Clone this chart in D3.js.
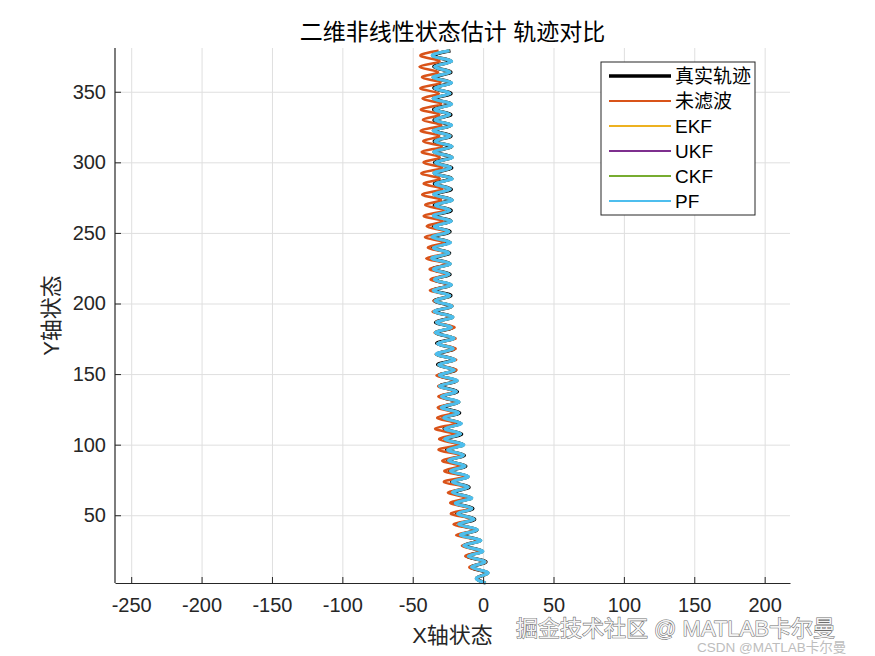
<!DOCTYPE html>
<html>
<head>
<meta charset="utf-8">
<script src="https://cdn.jsdelivr.net/npm/d3@7"></script>
<style>
  body { margin: 0; background: #fff; }
  svg { display: block; font-family: "Liberation Sans", Arial, "Noto Sans CJK SC", sans-serif; }
</style>
</head>
<body>
<svg id="chart"></svg>
<script>
// sample heights (y state) of each turning point of the trajectory
const yLevels = [
  2.0, 5.8, 9.5, 13.3, 17.1, 20.9, 24.6, 28.4, 32.2, 35.9,
  39.7, 43.5, 47.2, 51.0, 54.8, 58.6, 62.3, 66.1, 69.9, 73.6,
  77.4, 81.2, 84.9, 88.7, 92.5, 96.3, 100.0, 103.8, 107.6, 111.3,
  115.1, 118.9, 122.6, 126.4, 130.2, 134.0, 137.7, 141.5, 145.3, 149.0,
  152.8, 156.6, 160.3, 164.1, 167.9, 171.7, 175.4, 179.2, 183.0, 186.7,
  190.5, 194.3, 198.0, 201.8, 205.6, 209.4, 213.1, 216.9, 220.7, 224.4,
  228.2, 232.0, 235.7, 239.5, 243.3, 247.1, 250.8, 254.6, 258.4, 262.1,
  265.9, 269.7, 273.4, 277.2, 281.0, 284.8, 288.5, 292.3, 296.1, 299.8,
  303.6, 307.4, 311.1, 314.9, 318.7, 322.5, 326.2, 330.0, 333.8, 337.5,
  341.3, 345.1, 348.8, 352.6, 356.4, 360.2, 363.9, 367.7, 371.5, 375.2,
  379.0
];

// true x state
const trueX = [
  1.5, -4.0, 2.6, -8.5, 1.9, -11.5, -0.6, -13.5, -2.3, -15.3,
  -4.4, -17.4, -6.0, -18.7, -7.3, -20.1, -8.8, -21.5, -10.0, -22.3,
  -11.0, -23.7, -12.3, -25.0, -13.4, -25.9, -14.3, -26.8, -15.3, -27.7,
  -16.2, -28.4, -16.7, -29.1, -17.6, -30.1, -18.3, -30.6, -18.9, -31.4,
  -19.8, -32.3, -20.6, -32.7, -20.7, -33.0, -21.3, -33.6, -21.9, -33.8,
  -21.9, -34.2, -22.4, -34.8, -22.9, -35.0, -23.1, -35.2, -23.5, -35.8,
  -23.9, -35.9, -23.8, -36.0, -23.9, -35.7, -23.5, -35.3, -23.0, -34.8,
  -22.7, -34.7, -22.5, -34.5, -22.6, -34.6, -22.5, -34.4, -22.3, -34.5,
  -22.5, -34.6, -22.7, -34.7, -22.8, -35.0, -23.0, -34.9, -22.9, -35.1,
  -23.0, -34.9, -22.8, -35.0, -23.1, -35.0, -22.9, -35.0, -23.0, -35.1,
  -23.2
];

// raw measurement (no filter)
const measX = [
  2.0, -4.0, 2.7, -9.8, 1.9, -12.6, -2.4, -15.1, -3.7, -19.2,
  -5.6, -21.0, -7.2, -22.9, -9.8, -23.3, -12.7, -25.0, -12.4, -27.9,
  -13.7, -27.5, -16.9, -29.0, -16.3, -31.7, -17.8, -31.2, -20.5, -34.1,
  -19.8, -32.6, -21.1, -32.2, -19.1, -31.8, -20.6, -31.9, -18.7, -33.2,
  -18.9, -31.9, -19.2, -33.8, -19.5, -32.4, -19.6, -34.5, -20.3, -33.3,
  -22.2, -35.9, -21.6, -35.1, -24.0, -37.8, -23.6, -37.3, -26.3, -38.0,
  -25.5, -40.4, -26.0, -39.2, -27.9, -41.3, -26.9, -40.0, -28.9, -42.2,
  -28.0, -41.1, -29.9, -43.3, -28.9, -42.2, -30.8, -43.9, -29.2, -42.3,
  -30.7, -43.6, -29.4, -42.5, -31.2, -44.3, -29.8, -42.8, -31.1, -44.2,
  -29.9, -43.0, -31.5, -44.6, -30.3, -43.4, -32.0, -45.2, -31.0, -44.2,
  -31.6
];

// filter estimates (EKF / UKF / CKF / PF lie on top of each other)
const estX = [
  1.8, -4.5, 3.4, -8.3, 1.3, -10.6, -0.2, -13.8, -1.6, -16.1,
  -3.9, -17.3, -6.4, -18.1, -8.0, -19.8, -8.0, -21.7, -10.5, -21.9,
  -10.4, -23.1, -12.8, -24.6, -13.9, -25.2, -13.7, -27.3, -15.9, -27.2,
  -15.4, -28.1, -17.3, -29.8, -17.0, -29.5, -18.9, -31.1, -18.2, -31.0,
  -20.4, -31.6, -20.1, -33.4, -21.2, -32.4, -20.6, -33.9, -22.5, -33.2,
  -21.4, -34.9, -22.0, -34.1, -23.6, -35.5, -22.4, -34.6, -24.1, -35.3,
  -23.2, -36.6, -24.3, -35.4, -23.1, -36.3, -24.2, -34.7, -22.5, -35.5,
  -23.4, -34.0, -21.8, -35.1, -23.3, -34.0, -21.9, -35.0, -23.0, -33.8,
  -21.9, -35.3, -22.0, -34.1, -23.4, -35.6, -22.4, -34.2, -23.6, -34.4,
  -22.3, -35.6, -23.5, -34.3, -22.4, -35.7, -23.5, -34.4, -22.3, -35.8,
  -23.9
];

const xTicks = [-250, -200, -150, -100, -50, 0, 50, 100, 150, 200];
const yTicks = [50, 100, 150, 200, 250, 300, 350];
const seriesNames = ["真实轨迹", "未滤波", "EKF", "UKF", "CKF", "PF"];

const series = [
  { name: seriesNames[0], xs: trueX, color: "#000000", width: 3.4 },
  { name: seriesNames[1], xs: measX, color: "#D95319", width: 2.5 },
  { name: seriesNames[2], xs: estX, color: "#EDB120", width: 2.5 },
  { name: seriesNames[3], xs: estX, color: "#7E2F8E", width: 2.5 },
  { name: seriesNames[4], xs: estX, color: "#77AC30", width: 2.5 },
  { name: seriesNames[5], xs: estX, color: "#4DBEEE", width: 3 }
];

const W = 875, H = 656;
const margin = { top: 48, right: 85, bottom: 73, left: 115 };
const axisColor = "#262626";

const svg = d3.select("#chart").attr("width", W).attr("height", H);

const x = d3.scaleLinear().domain([-261.5, 218]).range([margin.left, W - margin.right]);
const y = d3.scaleLinear().domain([2, 381]).range([H - margin.bottom, margin.top]);

// grid
const grid = svg.append("g").attr("stroke", "#dfdfdf").attr("stroke-width", 1);
grid.selectAll("line.gx").data(xTicks).join("line")
  .attr("x1", d => x(d) + 0.5).attr("x2", d => x(d) + 0.5)
  .attr("y1", y.range()[1]).attr("y2", y.range()[0]);
grid.selectAll("line.gy").data(yTicks).join("line")
  .attr("y1", d => y(d) + 0.5).attr("y2", d => y(d) + 0.5)
  .attr("x1", x.range()[0]).attr("x2", x.range()[1]);

// trajectories
const plot = svg.append("g");
series.forEach(s => {
  const line = d3.line()
    .x(d => x(s.xs[d]))
    .y(d => y(yLevels[d]))
    .curve(d3.curveNatural);
  plot.append("path")
    .attr("d", line(d3.range(yLevels.length)))
    .attr("fill", "none")
    .attr("stroke", s.color)
    .attr("stroke-width", s.width)
    .attr("stroke-linejoin", "round");
});

// axes
const fmt = d => String(d);
const xAxis = svg.append("g")
  .attr("transform", `translate(0,${y.range()[0]})`)
  .call(d3.axisBottom(x).tickValues(xTicks).tickFormat(fmt).tickSizeInner(-6).tickSizeOuter(0).tickPadding(15));
const yAxis = svg.append("g")
  .attr("transform", `translate(${x.range()[0]},0)`)
  .call(d3.axisLeft(y).tickValues(yTicks).tickFormat(fmt).tickSizeInner(-6).tickSizeOuter(0).tickPadding(9));

[xAxis, yAxis].forEach(g => {
  g.select(".domain").attr("stroke", axisColor).attr("stroke-width", 1.2);
  g.selectAll(".tick line").attr("stroke", axisColor);
  g.selectAll(".tick text")
    .attr("fill", axisColor)
    .style("font-size", "20px")
    .style("font-family", "'Liberation Sans', Arial, sans-serif");
});
// left axis runs the full height
yAxis.select(".domain").attr("d", `M0,${y.range()[1]}V${y.range()[0]}`);

// title and labels
svg.append("text")
  .attr("x", (x.range()[0] + x.range()[1]) / 2).attr("y", 40)
  .attr("text-anchor", "middle")
  .attr("fill", "#000")
  .style("font-size", "23px")
  .text("二维非线性状态估计 轨迹对比");

svg.append("text")
  .attr("x", (x.range()[0] + x.range()[1]) / 2).attr("y", 643)
  .attr("text-anchor", "middle")
  .attr("fill", axisColor)
  .style("font-size", "22px")
  .text("X轴状态");

svg.append("text")
  .attr("transform", `translate(59,${(y.range()[0] + y.range()[1]) / 2}) rotate(-90)`)
  .attr("text-anchor", "middle")
  .attr("fill", axisColor)
  .style("font-size", "22px")
  .text("Y轴状态");

// legend
const legend = svg.append("g").attr("transform", "translate(601,62)");
legend.append("rect")
  .attr("width", 154).attr("height", 153)
  .attr("fill", "#fff")
  .attr("stroke", axisColor)
  .attr("stroke-width", 1);
const item = legend.selectAll("g.item").data(series).join("g")
  .attr("transform", (d, i) => `translate(0,${14 + i * 25})`);
item.append("line")
  .attr("x1", 8).attr("x2", 70)
  .attr("stroke", d => d.color)
  .attr("stroke-width", (d, i) => i === 0 ? 3.5 : 2.2);
item.append("text")
  .attr("x", 74).attr("dy", "0.35em")
  .attr("fill", "#000")
  .style("font-size", "19px")
  .text(d => d.name);

// watermarks
svg.append("text")
  .attr("x", 516).attr("y", 636)
  .attr("fill", "#f4f4f4")
  .attr("stroke", "#6e6e6e")
  .attr("stroke-width", 1.1)
  .attr("paint-order", "stroke")
  .style("font-size", "22px")
  .text("掘金技术社区 @ MATLAB卡尔曼");
svg.append("text")
  .attr("x", 697).attr("y", 652)
  .attr("fill", "#bdbdbd")
  .style("font-size", "13.5px")
  .text("CSDN @MATLAB卡尔曼");
</script>
</body>
</html>
